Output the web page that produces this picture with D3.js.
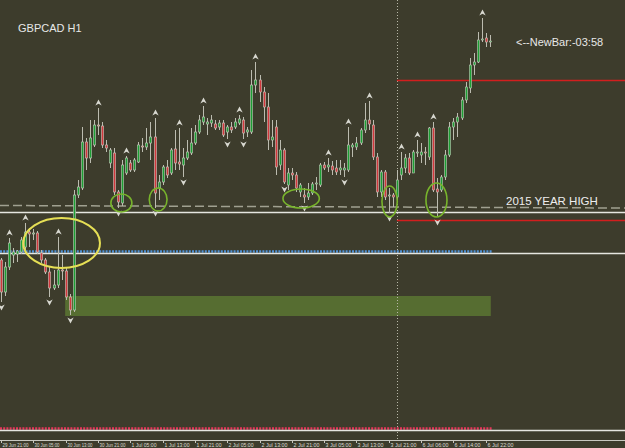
<!DOCTYPE html>
<html>
<head>
<meta charset="utf-8">
<script src="https://cdn.jsdelivr.net/npm/d3@7"></script>
<style>
html, body { margin: 0; padding: 0; background: #3d3c2c; overflow: hidden; }
</style>
</head>
<body>
<div id="chart"></div>
<script>
const dims = {width: 625, height: 448, axisY: 440};

// GBPCAD H1 bars, 29 Jun 21:00 .. 6 Jul 23:00
const open = [1.9460,1.9428,1.9453,1.9465,1.9466,1.9468,1.9473,1.9488,1.9486,1.9487,
  1.9467,1.9460,1.9448,1.9432,1.9435,1.9450,1.9449,1.9423,1.9410,1.9525,
  1.9532,1.9578,1.9562,1.9575,1.9595,1.9594,1.9575,1.9557,1.9567,1.9528,
  1.9517,1.9547,1.9557,1.9550,1.9558,1.9574,1.9573,1.9577,1.9583,1.9532,
  1.9538,1.9553,1.9547,1.9571,1.9558,1.9555,1.9562,1.9567,1.9577,1.9588,
  1.9598,1.9596,1.9597,1.9596,1.9593,1.9597,1.9588,1.9593,1.9593,1.9597,
  1.9600,1.9588,1.9588,1.9635,1.9640,1.9628,1.9613,1.9580,1.9593,1.9555,
  1.9570,1.9535,1.9547,1.9545,1.9528,1.9525,1.9523,1.9527,1.9536,1.9535,
  1.9555,1.9553,1.9554,1.9552,1.9550,1.9550,1.9550,1.9573,1.9573,1.9577,
  1.9590,1.9600,1.9595,1.9563,1.9528,1.9548,1.9524,1.9525,1.9523,1.9545,
  1.9552,1.9562,1.9547,1.9567,1.9565,1.9568,1.9563,1.9592,1.9531,1.9530,
  1.9543,1.9565,1.9593,1.9598,1.9602,1.9620,1.9632,1.9655,1.9658,1.9680,
  1.9682,1.9679];
const high = [1.9462,1.9458,1.9482,1.9472,1.9470,1.9483,1.9497,1.9492,1.9491,1.9489,
  1.9470,1.9462,1.9453,1.9450,1.9483,1.9465,1.9452,1.9426,1.9530,1.9540,
  1.9593,1.9582,1.9600,1.9600,1.9612,1.9598,1.9580,1.9572,1.9572,1.9530,
  1.9560,1.9564,1.9560,1.9562,1.9578,1.9582,1.9592,1.9598,1.9602,1.9545,
  1.9555,1.9560,1.9572,1.9590,1.9592,1.9572,1.9580,1.9592,1.9595,1.9605,
  1.9614,1.9602,1.9605,1.9600,1.9600,1.9600,1.9595,1.9598,1.9602,1.9605,
  1.9603,1.9593,1.9650,1.9658,1.9645,1.9633,1.9627,1.9600,1.9600,1.9580,
  1.9572,1.9552,1.9552,1.9548,1.9537,1.9532,1.9537,1.9538,1.9543,1.9557,
  1.9558,1.9562,1.9559,1.9560,1.9560,1.9557,1.9593,1.9577,1.9583,1.9592,
  1.9617,1.9619,1.9600,1.9567,1.9550,1.9550,1.9532,1.9527,1.9550,1.9568,
  1.9566,1.9567,1.9570,1.9580,1.9577,1.9573,1.9593,1.9598,1.9542,1.9545,
  1.9570,1.9598,1.9602,1.9607,1.9623,1.9638,1.9662,1.9667,1.9688,1.9702,
  1.9687,1.9685];
const low = [1.9418,1.9424,1.9450,1.9457,1.9458,1.9466,1.9470,1.9473,1.9480,1.9466,
  1.9457,1.9446,1.9423,1.9430,1.9432,1.9440,1.9420,1.9405,1.9408,1.9522,
  1.9530,1.9550,1.9557,1.9573,1.9585,1.9572,1.9568,1.9552,1.9525,1.9512,
  1.9514,1.9545,1.9548,1.9548,1.9557,1.9568,1.9570,1.9560,1.9512,1.9520,
  1.9535,1.9542,1.9545,1.9550,1.9550,1.9543,1.9560,1.9565,1.9575,1.9586,
  1.9595,1.9585,1.9593,1.9590,1.9590,1.9583,1.9581,1.9587,1.9591,1.9595,
  1.9581,1.9583,1.9586,1.9627,1.9618,1.9598,1.9570,1.9573,1.9545,1.9550,
  1.9536,1.9530,1.9540,1.9528,1.9523,1.9517,1.9520,1.9525,1.9530,1.9533,
  1.9550,1.9548,1.9545,1.9545,1.9545,1.9543,1.9548,1.9563,1.9570,1.9575,
  1.9587,1.9590,1.9560,1.9523,1.9523,1.9520,1.9507,1.9513,1.9520,1.9540,
  1.9547,1.9545,1.9547,1.9563,1.9557,1.9555,1.9560,1.9528,1.9503,1.9528,
  1.9540,1.9563,1.9580,1.9583,1.9600,1.9617,1.9627,1.9645,1.9657,1.9678,
  1.9673,1.9673];
const close = [1.9428,1.9453,1.9477,1.9468,1.9469,1.9480,1.9488,1.9486,1.9487,1.9468,
  1.9460,1.9448,1.9432,1.9435,1.9450,1.9449,1.9423,1.9410,1.9525,1.9533,
  1.9578,1.9562,1.9582,1.9595,1.9594,1.9575,1.9572,1.9570,1.9528,1.9518,
  1.9555,1.9562,1.9550,1.9560,1.9575,1.9573,1.9577,1.9583,1.9527,1.9538,
  1.9553,1.9545,1.9570,1.9557,1.9556,1.9562,1.9568,1.9577,1.9588,1.9600,
  1.9603,1.9598,1.9600,1.9592,1.9597,1.9585,1.9593,1.9590,1.9598,1.9601,
  1.9587,1.9590,1.9635,1.9640,1.9628,1.9613,1.9580,1.9583,1.9553,1.9570,
  1.9538,1.9547,1.9545,1.9532,1.9535,1.9523,1.9527,1.9536,1.9537,1.9555,
  1.9552,1.9555,1.9550,1.9548,1.9552,1.9552,1.9575,1.9575,1.9577,1.9590,
  1.9600,1.9596,1.9563,1.9528,1.9548,1.9523,1.9525,1.9523,1.9540,1.9552,
  1.9562,1.9547,1.9568,1.9568,1.9568,1.9567,1.9592,1.9530,1.9528,1.9543,
  1.9565,1.9593,1.9598,1.9603,1.9620,1.9633,1.9655,1.9658,1.9680,1.9681,
  1.9678,1.9679];

const fractalUp = [2, 6, 14, 24, 31, 38, 44, 50, 59, 63, 81, 86, 91, 99, 103, 107, 119];
const fractalDown = [0, 12, 17, 29, 38, 45, 56, 60, 70, 75, 85, 96, 108];

const tickBars = [0, 8, 16, 24, 32, 40, 48, 56, 64, 72, 80, 88, 96, 104, 112, 120];
const tickLabels = ["29 Jun 21:00", "30 Jun 05:00", "30 Jun 13:00", "30 Jun 21:00",
  "1 Jul 05:00", "1 Jul 13:00", "1 Jul 21:00", "2 Jul 05:00", "2 Jul 13:00",
  "2 Jul 21:00", "3 Jul 05:00", "3 Jul 13:00", "3 Jul 21:00", "6 Jul 06:00",
  "6 Jul 14:00", "6 Jul 22:00"];

const weekStart = 98;            // 6 Jul 00:00 separator
const yearHigh = 1.9508;
const trendLine = [1.95145, 1.9512];
const prevWeek = [1.9640, 1.9500];
const blueLevel = 1.9469, whiteLevel = 1.94665;
const pinkLevel = 1.9292, bottomLevel = 1.9290;
const zone = [1.9424, 1.9404];

// annotation ellipses: [bar, price, bars radius, price radius]
const yellowMarks = [[15.0, 1.9477, 9.5, 0.0025]];
const greenMarks = [
  [29.8, 1.9517, 2.6, 0.0009],
  [38.9, 1.95205, 2.2, 0.00115],
  [74.3, 1.95215, 4.5, 0.00095],
  [96.2, 1.95185, 1.9, 0.00155],
  [107.8, 1.9520, 2.6, 0.0017]
];

const bars = open.map((o, i) => ({i, o, h: high[i], l: low[i], c: close[i]}));
const lastBar = bars.length - 1;

const x = d3.scaleLinear().domain([0, 121]).range([1, 489.8]);
const y = d3.scaleLinear().domain([1.9280, 1.9720]).range([440, 0]);
const px = v => Math.round(v) + 0.5;

const svg = d3.select("#chart")
    .append("svg")
    .attr("width", dims.width)
    .attr("height", dims.height)
    .style("display", "block")
    .style("font-family", "'Liberation Sans', Arial, sans-serif");

svg.append("rect")
    .attr("width", dims.width)
    .attr("height", dims.height)
    .attr("fill", "#3d3c2c");

// demand zone
svg.append("rect")
    .attr("x", x(16) - 0.5)
    .attr("y", y(zone[0]))
    .attr("width", x(lastBar) + 1.5 - x(16))
    .attr("height", y(zone[1]) - y(zone[0]))
    .attr("fill", "#566d31");

// week separator
svg.append("line")
    .attr("x1", px(x(weekStart))).attr("x2", px(x(weekStart)))
    .attr("y1", 0).attr("y2", dims.axisY)
    .attr("stroke", "#b8b8a8")
    .attr("stroke-dasharray", "1,2");

// horizontal levels
const hline = (price, x1, x2, color, dash, w) => svg.append("line")
    .attr("x1", x1).attr("x2", x2)
    .attr("y1", px(y(price))).attr("y2", px(y(price)))
    .attr("stroke", color)
    .attr("stroke-width", w || 1)
    .attr("stroke-dasharray", dash || null);

svg.append("line")
    .attr("x1", 0).attr("x2", dims.width)
    .attr("y1", y(trendLine[0])).attr("y2", y(trendLine[1]))
    .attr("stroke", "#a0a090")
    .attr("stroke-width", 1.5)
    .attr("stroke-dasharray", "9,4");

hline(yearHigh, 0, dims.width, "#e6e6e0", null, 1.3);
hline(prevWeek[0], x(weekStart), dims.width, "#d21e1e", null, 1.5);
hline(prevWeek[1], x(weekStart), dims.width, "#d21e1e", null, 1.5);
hline(blueLevel, 0, x(lastBar) + 2, "#4f92d8", "2,1.2", 2.5);
hline(whiteLevel, 0, dims.width, "#e6e6e0", null, 1.3);
hline(pinkLevel, 0, x(lastBar) + 2, "#e8365a", "2,1.2", 2.5);
hline(bottomLevel, 0, dims.width, "#e6e6e0", null, 1.3);

// candles
const candles = svg.append("g").attr("class", "candles")
    .selectAll("g")
    .data(bars)
    .join("g");

candles.append("line")
    .attr("x1", d => px(x(d.i))).attr("x2", d => px(x(d.i)))
    .attr("y1", d => y(d.h)).attr("y2", d => y(d.l))
    .attr("stroke", "#bcbcb0");

candles.append("rect")
    .attr("x", d => Math.round(x(d.i)) - 0.7)
    .attr("y", d => y(Math.max(d.o, d.c)))
    .attr("width", 2.4)
    .attr("height", d => Math.max(1, Math.abs(y(d.o) - y(d.c))))
    .attr("fill", d => d.c >= d.o ? "#1c9f34" : "#d2373c")
    .attr("stroke", "#c4c4b8")
    .attr("stroke-width", 0.6);

// fractal arrows (notched arrowheads)
svg.append("g").selectAll("path")
    .data(fractalUp)
    .join("path")
    .attr("transform", i => `translate(${px(x(i))},${y(high[i]) - 5})`)
    .attr("d", "M0,-3.5L3.2,2.5L0,0.8L-3.2,2.5Z")
    .attr("fill", "#d8d8d0");

svg.append("g").selectAll("path")
    .data(fractalDown)
    .join("path")
    .attr("transform", i => `translate(${px(x(i))},${y(low[i]) + 5})`)
    .attr("d", "M0,3.5L3.2,-2.5L0,-0.8L-3.2,-2.5Z")
    .attr("fill", "#d8d8d0");

// annotation ellipses
const barW = x(1) - x(0);
const ellipse = (m, color, w) => svg.append("ellipse")
    .attr("cx", x(m[0])).attr("cy", y(m[1]))
    .attr("rx", m[2] * barW)
    .attr("ry", y(m[1] - m[3]) - y(m[1]))
    .attr("fill", "none")
    .attr("stroke", color)
    .attr("stroke-width", w);

yellowMarks.forEach(m => ellipse(m, "#e6df55", 2));
greenMarks.forEach(m => ellipse(m, "#78b42c", 1.6));

// texts
svg.append("text")
    .attr("x", 18).attr("y", 32)
    .attr("fill", "#e8e8e8")
    .style("font-size", "11px")
    .text("GBPCAD H1");

svg.append("text")
    .attr("x", 516).attr("y", 46)
    .attr("fill", "#e8e8e8")
    .style("font-size", "11px")
    .text("<--NewBar:-03:58");

svg.append("text")
    .attr("x", 506).attr("y", 205)
    .attr("fill", "#eeeeee")
    .style("font-size", "11.5px")
    .text("2015 YEAR HIGH");

// time axis
svg.append("line")
    .attr("x1", 0).attr("x2", dims.width)
    .attr("y1", dims.axisY + 0.5).attr("y2", dims.axisY + 0.5)
    .attr("stroke", "#c8c8c0");

const ticks = svg.append("g").selectAll("g")
    .data(tickBars)
    .join("g")
    .attr("transform", b => `translate(${px(x(b))},${dims.axisY})`);

ticks.append("line")
    .attr("y1", 0).attr("y2", 3)
    .attr("stroke", "#c8c8c0");

ticks.append("text")
    .attr("x", 1).attr("y", 6.5)
    .attr("fill", "#dcdcd4")
    .style("font-size", "5.8px")
    .attr("textLength", b => b > 0 && b < 64 && b !== 24 ? 25 : 26)
    .attr("lengthAdjust", "spacingAndGlyphs")
    .text((b, k) => tickLabels[k]);
</script>
</body>
</html>
